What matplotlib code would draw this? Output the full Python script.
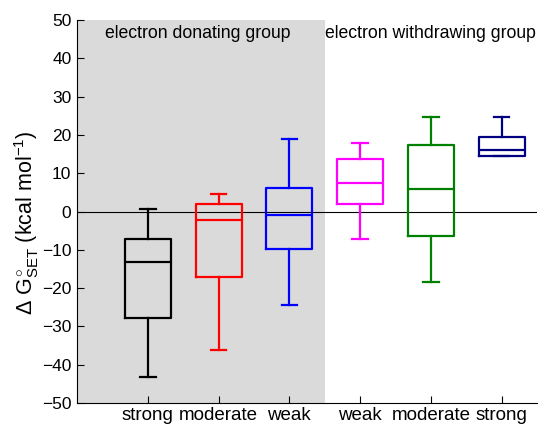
import matplotlib
matplotlib.use('Agg')
import matplotlib.pyplot as plt

plt.rcParams['font.family'] = ['Liberation Sans', 'DejaVu Sans']
plt.rcParams['mathtext.fontset'] = 'custom'
plt.rcParams['mathtext.rm'] = 'Liberation Sans'
plt.rcParams['mathtext.it'] = 'Liberation Sans'

categories = ['strong', 'moderate', 'weak', 'weak', 'moderate', 'strong']
colors = ['black', 'red', 'blue', 'magenta', 'green', 'navy']

# whisker low, Q1, median, Q3, whisker high (kcal/mol)
whislo = [-43.2, -36.2, -24.5, -7.2, -18.5, 14.6]
q1 = [-27.8, -17.1, -9.7, 2.0, -6.3, 14.6]
med = [-13.1, -2.2, -1.0, 7.4, 5.9, 16.1]
q3 = [-7.1, 1.9, 6.1, 13.7, 17.4, 19.4]
whishi = [0.7, 4.5, 18.9, 17.8, 24.8, 24.8]

fig = plt.figure(figsize=(5.39, 4.28), dpi=100)
ax = fig.add_axes([77 / 539, 25 / 428, 460 / 539, 383 / 428])

ax.axvspan(0, 3.5, color='#dadada', zorder=0, lw=0)
ax.axhline(0, color='black', lw=0.8, zorder=1)

stats = []
for i in range(len(categories)):
    stats.append({'whislo': whislo[i], 'q1': q1[i], 'med': med[i],
                  'q3': q3[i], 'whishi': whishi[i], 'fliers': []})

for i, s in enumerate(stats):
    c = colors[i]
    ax.bxp([s], positions=[i + 1], widths=0.65, showfliers=False,
           boxprops=dict(color=c, lw=1.6),
           medianprops=dict(color=c, lw=1.6),
           whiskerprops=dict(color=c, lw=1.6),
           capprops=dict(color=c, lw=1.6),
           capwidths=0.22, manage_ticks=False, zorder=2)

ax.set_xlim(0, 6.5)
ax.set_ylim(-50, 50)
ax.set_xticks(range(1, len(categories) + 1))
ax.set_xticklabels(categories)
ax.set_yticks(range(-50, 51, 10))

ax.spines['top'].set_visible(False)
ax.spines['right'].set_visible(False)
ax.tick_params(direction='in', length=5, pad=4)
ax.tick_params(axis='y', labelsize=12.5)
ax.tick_params(axis='x', labelsize=13.5, pad=3)

ax.text(1.71, 46.6, 'electron donating group', ha='center', va='center', fontsize=12.7)
ax.text(5.0, 46.6, 'electron withdrawing group', ha='center', va='center', fontsize=12.7)

ax.set_ylabel(r'$\Delta\ G^{\circ}_{\mathrm{SET}}$ (kcal mol$^{-1}$)', fontsize=15.5)
ax.yaxis.set_label_coords(-0.078, 0.47)

fig.savefig('out.png', dpi=100)
